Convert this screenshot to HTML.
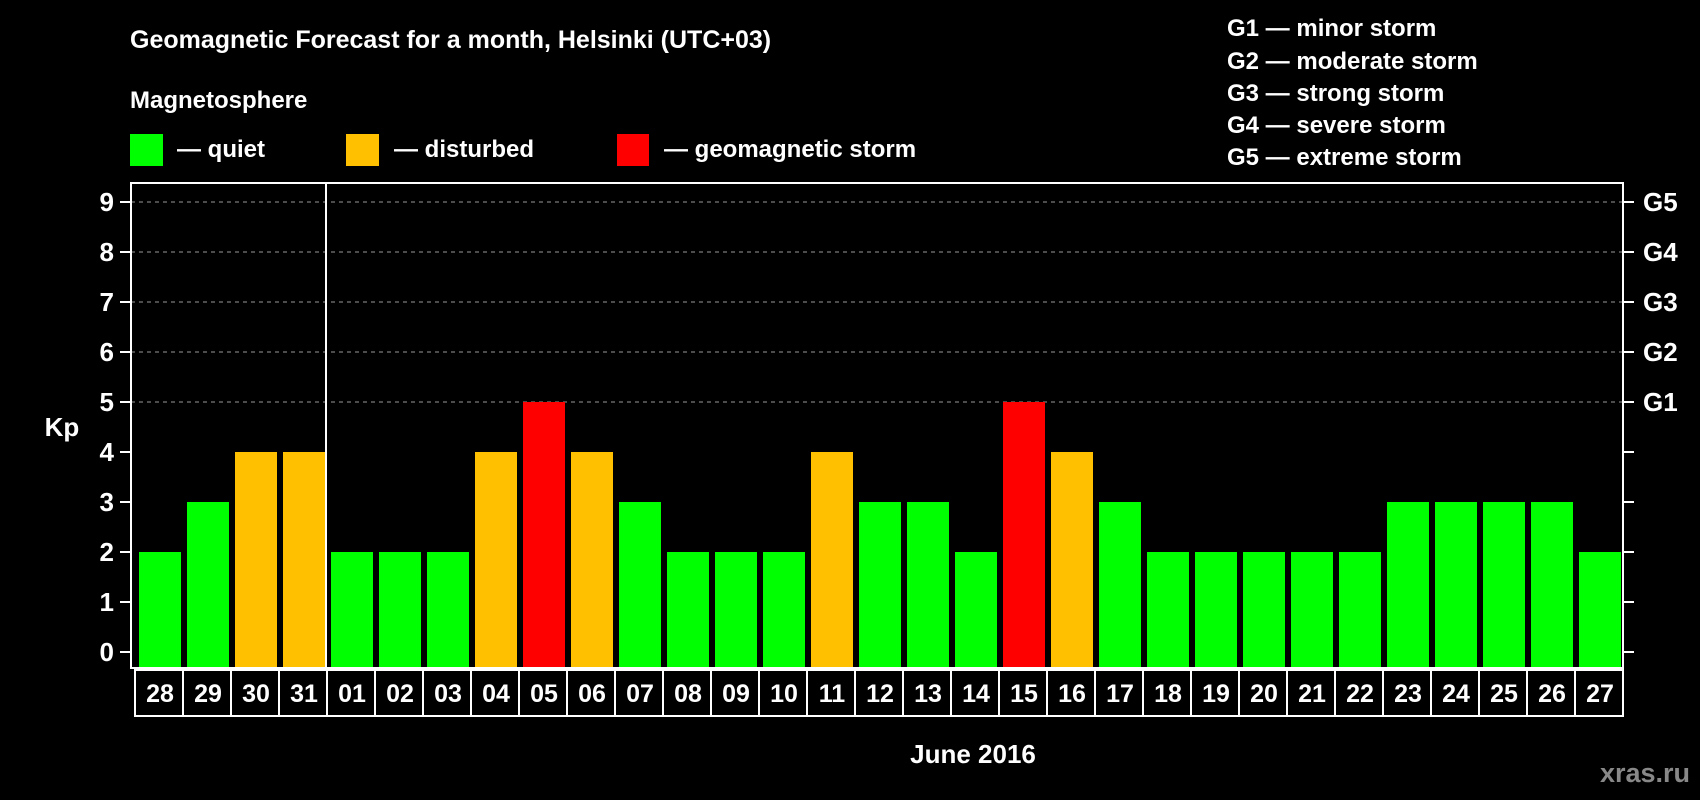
<!DOCTYPE html>
<html><head><meta charset="utf-8"><style>
html,body{margin:0;padding:0;background:#000;}
svg{display:block;font-family:"Liberation Sans",Arial,sans-serif;font-weight:bold;}
</style></head><body>
<svg id="chart" width="1700" height="800" xmlns="http://www.w3.org/2000/svg">
<rect width="1700" height="800" fill="#000"/>
<text x="130" y="48" fill="#fff" font-size="25">Geomagnetic Forecast for a month, Helsinki (UTC+03)</text>
<text x="130" y="108" fill="#fff" font-size="24">Magnetosphere</text>
<g><rect x="130" y="134" width="33" height="32" fill="#00ff00"/><text x="177" y="157" fill="#fff" font-size="24">— quiet</text></g>
<g><rect x="346" y="134" width="33" height="32" fill="#ffc000"/><text x="394" y="157" fill="#fff" font-size="24">— disturbed</text></g>
<g><rect x="617" y="134" width="32" height="32" fill="#ff0000"/><text x="664" y="157" fill="#fff" font-size="24">— geomagnetic storm</text></g>
<g fill="#fff" font-size="24">
<text x="1227" y="36">G1 — minor storm</text>
<text x="1227" y="69">G2 — moderate storm</text>
<text x="1227" y="101">G3 — strong storm</text>
<text x="1227" y="133">G4 — severe storm</text>
<text x="1227" y="165">G5 — extreme storm</text>
</g>
<g id="grid"></g>
<g id="bars"></g>
<rect x="131" y="183" width="1492" height="485" fill="none" stroke="#fff" stroke-width="2"/>
<line x1="326" y1="183" x2="326" y2="668" stroke="#fff" stroke-width="2"/>
<g id="axes"></g>
<g id="xlabels"></g>
<text x="62" y="436" fill="#fff" font-size="26" text-anchor="middle">Kp</text>
<text x="973" y="763" fill="#fff" font-size="26" text-anchor="middle">June 2016</text>
<text x="1690" y="782" fill="#888" font-size="27" text-anchor="end">xras.ru</text>
</svg>
<script>
const days = ["28","29","30","31","01","02","03","04","05","06","07","08","09","10","11","12","13","14","15","16","17","18","19","20","21","22","23","24","25","26","27"];
const kp = [2,3,4,4,2,2,2,4,5,4,3,2,2,2,4,3,3,2,5,4,3,2,2,2,2,2,3,3,3,3,2];
const yTicks = [0,1,2,3,4,5,6,7,8,9];
const gLabels = [[5,"G1"],[6,"G2"],[7,"G3"],[8,"G4"],[9,"G5"]];
const NS="http://www.w3.org/2000/svg";
const y0=652, unit=50, x0=139, pitch=48, bw=42;
const yS=v=>y0-v*unit;
const xS=i=>x0+i*pitch;
function mk(t,a,p){const e=document.createElementNS(NS,t);for(const k in a)e.setAttribute(k,a[k]);p.appendChild(e);return e;}
const grid=document.getElementById('grid'),bars=document.getElementById('bars'),axes=document.getElementById('axes'),xl=document.getElementById('xlabels');
yTicks.forEach(v=>{
  if(v>=5){const g=mk('line',{x1:131,x2:1623,y1:yS(v),y2:yS(v),stroke:'#999','stroke-dasharray':'4,4','stroke-width':1},grid);
  
  }
  const t1=mk('line',{x1:120,x2:131,y1:yS(v),y2:yS(v),stroke:'#fff','stroke-width':2},axes);
  
  
  const t2=mk('line',{x1:1623,x2:1634,y1:yS(v),y2:yS(v),stroke:'#fff','stroke-width':2},axes);
  
  
  const l=mk('text',{x:114,y:yS(v)+9,fill:'#fff','font-size':26,'text-anchor':'end'},axes);l.textContent=v;
  
  
});
gLabels.forEach(([v,s])=>{
  const l=mk('text',{x:1643,y:yS(v)+9,fill:'#fff','font-size':26},axes);l.textContent=s;
  
  
});
kp.forEach((v,i)=>{
  const c=v>=5?'#ff0000':(v==4?'#ffc000':'#00ff00');
  const b=mk('rect',{x:xS(i),y:yS(v),width:bw,height:667-yS(v),fill:c},bars);
  
  
  const r=mk('rect',{x:xS(i)-4,y:670,width:pitch,height:46,fill:'none',stroke:'#fff','stroke-width':2},xl);
  
  
  const t=mk('text',{x:xS(i)+bw/2,y:702,fill:'#fff','font-size':25,'text-anchor':'middle'},xl);t.textContent=days[i];
  
  
});
</script>
</body></html>
